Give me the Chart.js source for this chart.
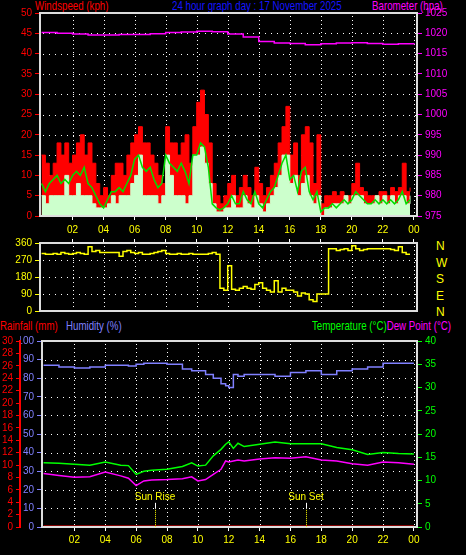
<!DOCTYPE html>
<html><head><meta charset="utf-8">
<script src="https://cdn.jsdelivr.net/npm/chart.js@4/dist/chart.umd.min.js"></script>
<style>
body{margin:0;background:#000;width:466px;height:555px;overflow:hidden;position:relative;font-family:"Liberation Sans",Arial,sans-serif}
canvas{position:absolute;left:0}
.t{position:absolute;font-size:13.5px;white-space:nowrap;transform:scaleX(0.72);transform-origin:0 0}
</style></head><body>
<div class="t" style="left:35px;top:-2px;color:#f00">Windspeed (kph)</div>
<div class="t" style="left:172px;top:-2px;color:#1515ff">24 hour graph day : 17 November 2025</div>
<div class="t" style="left:372px;top:-2px;color:#f0f">Barometer (hpa)</div>
<div class="t" style="left:0;top:318px;color:#f00">Rainfall (mm)</div>
<div class="t" style="left:66px;top:318px;color:#8080ff">Humidity (%)</div>
<div class="t" style="left:312px;top:318px;color:#0f0">Temperature (°C)<span style="color:#f0f">Dew Point (°C)</span></div>
<div class="t" style="left:436px;top:238px;color:#ff0;font-size:12px;line-height:16.6px;transform:none">N<br>W<br>S<br>E<br>N</div>
<div style="position:absolute;left:0;top:0;width:466px;height:225px"><canvas id="c1"></canvas></div>
<div style="position:absolute;left:0;top:225px;width:466px;height:95px"><canvas id="c2"></canvas></div>
<div style="position:absolute;left:0;top:320px;width:466px;height:235px"><canvas id="c3"></canvas></div>
<script>
// 15-minute wind samples (00:00 .. 23:45)
const windGust=[15,13,10,13,18,15,18,13,15,18,20,15,18,13,8,5,7,5,10,13,13,10,15,18,20,22,18,18,15,13,10,8,22,18,18,15,18,20,13,22,28,31,25,18,8,5,3,5,8,10,5,7,10,7,5,12,8,5,7,10,13,18,22,27,15,18,10,20,22,18,8,20,3,5,5,6,5,6,5,5,8,13,7,6,5,5,5,6,6,5,7,6,7,13,6,7];
const windSpeed=[5,3,5,5,5,5,10,5,5,8,5,5,5,3,2,2,2,3,5,3,5,5,5,8,10,15,5,5,5,5,3,5,15,10,5,5,5,3,5,15,15,17,13,8,3,1,1,2,2,5,2,2,5,3,2,5,3,1,3,5,7,10,15,15,8,10,5,8,10,5,3,5,0,2,2,3,3,3,5,3,5,5,5,3,3,3,5,3,5,3,5,3,5,5,3,5];
const windAvg=[8,6,8,9,10,8,9,8,10,11,10,12,8,7,5,3,2,4,6,6,7,6,8,10,14,15,12,11,12,9,7,8,15,13,12,11,13,11,8,15,15,18,17,12,3,2,1.5,2,3,5,3,3,6,4,3,6,3,2,4,6,7,10,13,15,9,10,6,11,12,6,4,6,1,2,2,3,2,3,4,3,4,6,5,4,3,3,4,3,4,3,4,3,4,6,3,4];
const windDir=[305,300,300,305,300,310,305,300,305,310,305,300,340,315,320,310,310,310,310,310,290,315,320,310,305,310,300,300,305,310,315,320,305,300,300,305,300,300,305,300,300,300,300,305,310,300,120,110,240,115,110,120,130,120,115,140,150,120,110,100,160,100,120,110,110,100,80,95,90,60,50,90,90,90,330,330,320,325,330,320,345,330,320,325,330,330,330,330,330,330,325,320,340,310,300,300];
// barometer (hours, hPa)
const baroHours=[0,1,2,3,4,5,6,7,8,9,10,11,12,13,14,15,16,17,18,19,20,21,22,23,24];
const baro=[1020.2,1020.0,1019.8,1019.6,1019.6,1019.7,1019.7,1019.9,1020.2,1020.3,1020.5,1020.4,1019.8,1019.1,1018.0,1017.6,1017.5,1017.2,1017.4,1017.6,1017.7,1017.5,1017.3,1017.4,1017.6];
// humidity / temperature / dew point samples
const thHours=[0,1,2,3,4,5,5.5,6,6.5,7,8,9,9.6,10,10.5,11,11.5,11.8,12,12.3,12.6,13,14,15,16,17,18,19,20,21,22,23,24];
const humidity=[87,86,85.5,86,87,87,86.5,87.5,88,88,87.5,85,84,84,82,80,77,76,75,82,81,82,82,81,83,84,82,84,85,86,88,88,88];
const temperature=[13.8,13.7,13.5,13.3,14.0,13.3,13.2,11.3,12.0,12.2,12.4,13.0,13.8,13.1,13.3,15.3,16.7,17.8,18.3,16.9,18.0,17.3,17.8,18.3,17.9,17.9,17.9,17.1,16.6,15.6,16.0,15.8,15.7];
const dewPoint=[11.5,11.1,10.7,10.8,11.8,11.0,10.5,8.9,9.9,10.1,10.2,10.4,10.8,9.9,10.2,11.3,12.4,14.2,14.0,14.2,14.4,14.2,14.6,14.9,14.8,15.1,14.4,14.2,13.6,13.3,14.0,13.8,13.5];
const rainHours=[0,24];
const rainfall=[0,0];
const hourTicks=['02','04','06','08','10','12','14','16','18','20','22','00'];
const sunEvents=[{h:7.2,label:'Sun Rise'},{h:17.0,label:'Sun Set'}];

const pts=(xs,ys)=>ys.map((y,i)=>({x:xs[i],y}));
const windTimes=windGust.map((_,i)=>i*0.25);
const FONT={family:'Liberation Sans',size:10};
const fixW=w=>function(s){s.width=w};
const fixH=h=>function(s){s.height=h};
function gridPlugin(yId){return {id:'dots',beforeDatasetsDraw(c){const a=c.chartArea,ctx=c.ctx;ctx.save();ctx.fillStyle='#fff';
 c.scales.x.ticks.forEach(t=>{const px=Math.round(c.scales.x.getPixelForValue(t.value));for(let y=a.top+3;y<a.bottom;y+=4)ctx.fillRect(px,y,1,1);});
 const ys=c.scales[yId];ys.ticks.forEach(t=>{const py=Math.round(ys.getPixelForValue(t.value));if(py<=a.top+1||py>=a.bottom-1)return;for(let x=a.left+3;x<a.right;x+=6)ctx.fillRect(x,py,1,1);});
 ctx.restore();},
 afterDatasetsDraw(c){const a=c.chartArea,x=c.ctx;x.save();x.strokeStyle='#ddd';x.lineWidth=2;x.strokeRect(a.left,a.top,a.right-a.left,a.bottom-a.top);x.restore();}};}
function xScale(display,pos,h){return {type:'linear',min:-0.1,max:24.2,position:pos,afterFit:fixH(h),
  afterBuildTicks(s){s.ticks=[];for(let i=0;i<hourTicks.length;i++)s.ticks.push({value:(i+1)*2});},
  ticks:{display,color:'#ff0',font:FONT,callback:(v)=>hourTicks[v/2-1],autoSkip:false,maxRotation:0},
  grid:{drawOnChartArea:false,tickColor:'#fff',tickLength:4},border:{display:false}};}
function yScale(pos,min,max,step,color,w,tl){return {position:pos,min,max,afterFit:fixW(w),
  ticks:{stepSize:step,color,font:FONT,padding:3,autoSkip:false,callback:v=>String(v)},grid:{drawOnChartArea:false,tickColor:color,tickLength:tl||5},border:{display:true,color,width:2}};}
Chart.defaults.animation=false;
Chart.defaults.plugins.legend.display=false;
Chart.defaults.plugins.tooltip.enabled=false;
Chart.defaults.maintainAspectRatio=false;
Chart.defaults.elements.point.radius=0;

new Chart(document.getElementById('c1'),{type:'line',data:{datasets:[
 {data:pts(windTimes,windGust),stepped:true,fill:'origin',backgroundColor:'#ff0000',borderColor:'#ff0000',borderWidth:1,yAxisID:'y',order:3},
 {data:pts(windTimes,windSpeed),stepped:true,fill:'origin',backgroundColor:'#ccffcc',borderColor:'#ccffcc',borderWidth:1,yAxisID:'y',order:2},
 {data:pts(windTimes,windAvg),borderColor:'#00dd00',borderWidth:1.5,yAxisID:'y',order:1},
 {data:pts(baroHours,baro),stepped:true,borderColor:'#ff00ff',borderWidth:1.5,yAxisID:'yb',order:0}
]},options:{layout:{padding:{top:13,bottom:4}},scales:{
 x:xScale(false,'bottom',0),
 y:yScale('left',0,50,5,'#f00',40),
 yb:yScale('right',975,1025,5,'#f0f',49)
}},plugins:[gridPlugin('y')]});

new Chart(document.getElementById('c2'),{type:'line',data:{datasets:[
 {data:pts(windTimes,windDir),stepped:true,borderColor:'#ffff00',borderWidth:1.5}
]},options:{layout:{padding:{bottom:9,right:49}},scales:{
 x:xScale(true,'top',18),
 y:yScale('left',0,360,90,'#ff0',40)
}},plugins:[gridPlugin('y')]});

const sunPlugin={id:'sun',afterDatasetsDraw(c){const x=c.scales.x,y=c.scales.yt,ctx=c.ctx;ctx.save();
 sunEvents.forEach(e=>{const px=Math.round(x.getPixelForValue(e.h));const top=y.getPixelForValue(5.2);const bot=c.chartArea.bottom;
  ctx.fillStyle='#fff';ctx.fillRect(px,top,1,6);
  ctx.fillStyle='#ff0';for(let yy=top+7;yy<bot;yy+=2)ctx.fillRect(px,yy,1,1);
  ctx.font='10px Liberation Sans';ctx.textAlign='center';ctx.fillText(e.label,px,top-3);});
 ctx.restore();}};

new Chart(document.getElementById('c3'),{type:'line',data:{datasets:[
 {data:pts(rainHours,rainfall),borderColor:'#ff0000',borderWidth:3,yAxisID:'yr'},
 {data:pts(thHours,humidity),stepped:true,borderColor:'#8080ff',borderWidth:1.5,yAxisID:'yh'},
 {data:pts(thHours,temperature),borderColor:'#00ff00',borderWidth:1.5,yAxisID:'yt'},
 {data:pts(thHours,dewPoint),borderColor:'#ff00ff',borderWidth:1.5,yAxisID:'yt'}
]},options:{layout:{padding:{top:21}},scales:{
 x:xScale(true,'bottom',28),
 yh:yScale('left',0,100,10,'#8080ff',22),
 yr:yScale('left',0,30,2,'#f00',20,4),
 yt:yScale('right',0,40,5,'#0f0',49)
}},plugins:[gridPlugin('yh'),sunPlugin]});
</script></body></html>
